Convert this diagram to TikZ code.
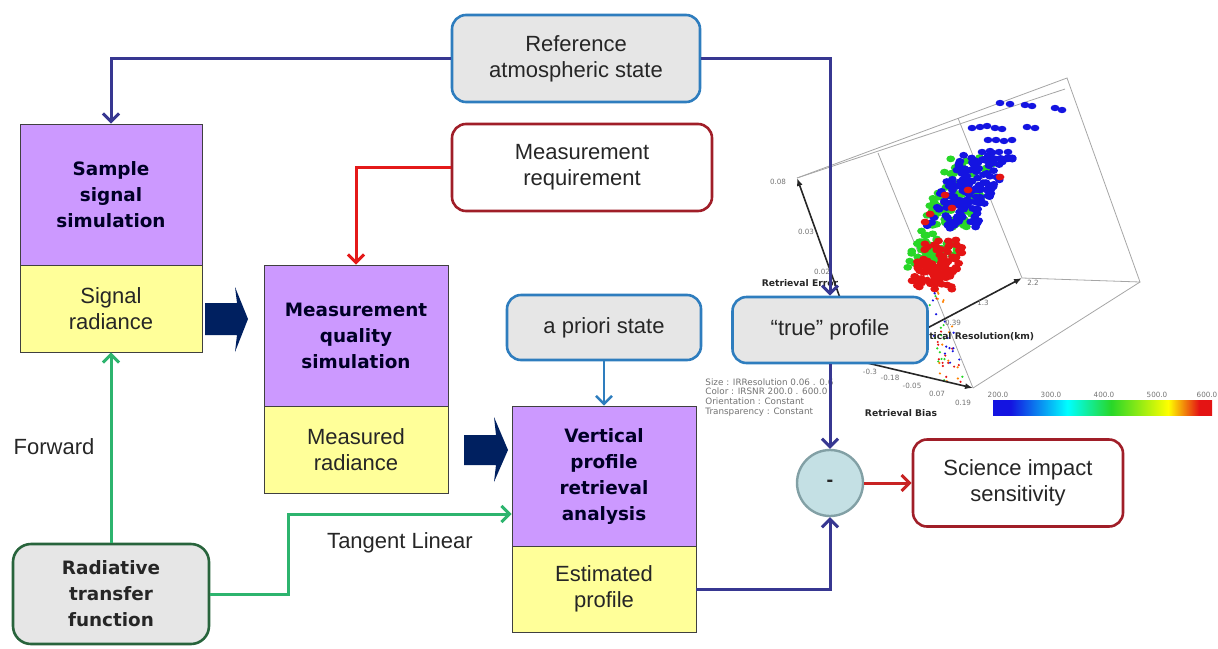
\documentclass[tikz,border=0pt]{standalone}
\usepackage{fontspec}
\setmainfont{Liberation Sans}
\newfontfamily\dejavu{DejaVu Sans}
\usetikzlibrary{arrows.meta}
\definecolor{boxpurple}{RGB}{204,153,255}
\definecolor{boxyellow}{RGB}{255,255,153}
\definecolor{boxgrey}{RGB}{230,230,230}
\definecolor{edgeblue}{RGB}{46,125,190}
\definecolor{edgered}{RGB}{160,30,40}
\definecolor{edgegreen}{RGB}{40,100,60}
\definecolor{flowblue}{RGB}{55,55,145}
\definecolor{flowred}{RGB}{228,25,25}
\definecolor{outred}{RGB}{200,35,35}
\definecolor{flowgreen}{RGB}{45,180,110}
\definecolor{blocknavy}{RGB}{0,32,96}
\definecolor{circfill}{RGB}{196,224,228}
\definecolor{circedge}{RGB}{130,160,165}
\definecolor{dotblue}{RGB}{20,20,225}
\definecolor{dotgreen}{RGB}{40,215,40}
\definecolor{dotred}{RGB}{228,20,20}
\pgfdeclarehorizontalshading{rainbowbar}{100bp}{color(0bp)=(dotblue); color(29bp)=(dotblue); color(42bp)=(cyan); color(52bp)=(dotgreen); color(65bp)=(yellow); color(72bp)=(dotred); color(100bp)=(dotred)}

\begin{document}
\begin{tikzpicture}[x=0.5pt,y=-0.5pt,
  font=\fontsize{11}{13}\selectfont, text=black!85,
  title/.style={draw=black!75, fill=boxpurple, minimum width=92pt, inner sep=2pt, align=center, font=\dejavu\bfseries\fontsize{9.2}{13}\selectfont, text=black!85!blue},
  output/.style={draw=black!75, fill=boxyellow, minimum width=92pt, inner sep=2pt, align=center},
  state/.style={draw=edgeblue, line width=1.3pt, fill=boxgrey, rounded corners=7pt, align=center},
  need/.style={draw=edgered, line width=1.3pt, fill=white, rounded corners=7pt, align=center},
  flow/.style={line width=1.5pt, -{Straight Barb[length=4pt,width=8pt]}},
  frame/.style={draw=black!35, line width=0.4pt},
  axis/.style={draw=black!85, line width=0.8pt, -{Latex[length=4pt,width=3pt]}},
  tick/.style={text=black!55, font=\dejavu\fontsize{3.6}{4}\selectfont, inner sep=0pt},
  axlabel/.style={text=black!85, font=\dejavu\bfseries\fontsize{4.6}{5}\selectfont, inner sep=0pt}]
\useasboundingbox (0,0) rectangle (1218,648);

% scatter plot
\coordinate (pA) at (797,178);
\coordinate (pB) at (1067,78);
\coordinate (pC) at (1140,282);
\coordinate (pD) at (1022,278);
\coordinate (pE) at (973,388);
\coordinate (pF) at (878,153);
\coordinate (pG) at (958,118);
\coordinate (pH) at (1065,89);
\coordinate (pO) at (863,362);
\draw[frame] (pA) -- (pB) -- (pC) -- (pD) -- (pG);
\draw[frame] (pA) -- (pH);
\draw[frame] (pC) -- (pE);
\draw[frame] (pF) -- (pE);

\pgfmathsetseed{42}
\foreach \i in {1,...,120}{
  \pgfmathsetmacro{\t}{rnd}
  \pgfmathsetmacro{\px}{928+45*\t+23*rand}
  \pgfmathsetmacro{\py}{266-105*\t+6*rand}
  \fill[dotgreen] (\px,\py) ellipse [x radius=2.2pt, y radius=1.7pt];
}
\foreach \i in {1,...,100}{
  \pgfmathsetmacro{\t}{rnd}
  \pgfmathsetmacro{\px}{932+10*\t+22*rand}
  \pgfmathsetmacro{\py}{285-42*\t+5*rand}
  \fill[dotred] (\px,\py) ellipse [x radius=2.2pt, y radius=1.7pt];
}
\foreach \i in {1,...,150}{
  \pgfmathsetmacro{\t}{rnd}
  \pgfmathsetmacro{\px}{950+38*\t+26*rand}
  \pgfmathsetmacro{\py}{226-72*\t+6*rand}
  \fill[dotblue] (\px,\py) ellipse [x radius=2.2pt, y radius=1.7pt];
}
\foreach \x/\y in {1000/103,1010/104,1025/105,1032/106,1055/108,1062/110,972/128,980/127,987/126,995/128,1002/129,1027/127,1035/128,988/140,996/140,1004/141,1012/140,982/152,990/151,999/152,1008/152}
  \fill[dotblue] (\x,\y) ellipse [x radius=2.2pt, y radius=1.6pt];
\foreach \x/\y in {1000/177,945/195,930/214,952/208,925/222,968/190}
  \fill[dotred] (\x,\y) ellipse [x radius=2.2pt, y radius=1.7pt];
\foreach \c in {dotred,dotgreen,dotblue,orange}{
  \foreach \i in {1,...,14}{
    \pgfmathsetmacro{\t}{rnd}
    \pgfmathsetmacro{\px}{932+22*\t+12*rand}
    \pgfmathsetmacro{\py}{292+90*\t}
    \fill[\c] (\px,\py) circle (0.6pt);
  }
}

\draw[axis] (pO) -- (pA);
\draw[axis] (pO) -- (pD);
\draw[axis] (pO) -- (pE);
\node[tick] (t1) at (778,182) {0.08};
\node[tick] (t2) at (806,232) {0.03};
\node[tick] (t3) at (822,272) {0.02};
\node[tick] (t4) at (1033,283) {2.2};
\node[tick] (t5) at (983,303) {1.3};
\node[tick] (t6) at (953,323) {0.39};
\node[tick] (t7) at (870,372) {-0.3};
\node[tick] (t8) at (890,378) {-0.18};
\node[tick] (t9) at (912,386) {-0.05};
\node[tick] (t10) at (937,394) {0.07};
\node[tick] (t11) at (963,403) {0.19};
\node[axlabel] (errlab) at (800,283) {Retrieval Error};
\node[axlabel] (reslab) at (973,337) {Vertical Resolution(km)};
\node[axlabel] (biaslab) at (901,413) {Retrieval Bias};
\node[tick, font=\dejavu\fontsize{4.4}{4.9}\selectfont, anchor=north west, align=left] (legend) at (705,378)
  {Size : IRResolution 0.06 . 0.6\\Color : IRSNR 200.0 . 600.0\\Orientation : Constant\\Transparency : Constant};
\shade[shading=rainbowbar] (993,400) rectangle (1212,415);
\node[tick] (c1) at (998,395) {200.0};
\node[tick] (c2) at (1051,395) {300.0};
\node[tick] (c3) at (1104,395) {400.0};
\node[tick] (c4) at (1157,395) {500.0};
\node[tick] (c5) at (1207,395) {600.0};

% blocks
\node[title, minimum width=91pt, minimum height=70.5pt] (sss) at (111,194.5) {Sample\\signal\\simulation};
\node[output, minimum width=91pt, minimum height=43.5pt] (sr) at (111,308.5) {Signal\\radiance};
\node[title, minimum height=70.5pt] (mqs) at (356,335.5) {Measurement\\quality\\simulation};
\node[output, minimum height=43.5pt] (mr) at (356,449.5) {Measured\\radiance};
\node[title, minimum height=70pt] (vpr) at (604,476) {Vertical\\profile\\retrieval\\analysis};
\node[output, minimum height=43pt] (ep) at (604,589) {Estimated\\profile};
\node[state, minimum width=124pt, minimum height=43.5pt] (ref) at (576,58.5) {Reference\\atmospheric state};
\node[need, minimum width=130pt, minimum height=43.5pt] (req) at (582,167.5) {Measurement\\requirement};
\node[state, minimum width=97pt, minimum height=32.5pt] (apriori) at (604,327.5) {a priori state};
\node[state, minimum width=97.5pt, minimum height=33pt] (true) at (830,330) {“true” profile};
\node[circle, draw=circedge, line width=1.2pt, fill=circfill, minimum size=33pt, inner sep=0pt, font=\bfseries] (minus) at (830,483) {-};
\node[need, minimum width=105pt, minimum height=43.5pt] (sci) at (1018,483) {Science impact\\sensitivity};
\node[draw=edgegreen, line width=1.3pt, fill=boxgrey, rounded corners=9pt, minimum width=98pt, minimum height=50pt, align=center, font=\dejavu\bfseries\fontsize{9.2}{13}\selectfont] (rtf) at (111,594) {Radiative\\transfer\\function};
\node (fwd) at (54,447) {Forward};
\node (tanlin) at (400,543) {Tangent Linear};

\fill[blocknavy] (205,303) -- (237,303) -- (235,287) -- (248,319) -- (235,352) -- (237,335) -- (205,335) -- cycle;
\fill[blocknavy] (464,435) -- (496,435) -- (494,417) -- (508,450) -- (494,482) -- (496,465) -- (464,465) -- cycle;

% connectors
\draw[flow, flowblue] (ref.west) -| (sss.north);
\draw[flow, flowblue] (ref.east) -| (true.north);
\draw[flow, flowblue] (true.south) -- (minus.north);
\draw[flow, flowblue] (ep.east) -| (minus.south);
\draw[flow, flowred] (req.west) -| (mqs.north);
\draw[flow, outred] (minus.east) -- (sci.west);
\draw[flow, edgeblue, line width=1.2pt] (apriori.south) -- (vpr.north);
\draw[flow, flowgreen] (rtf.north) -- (sr.south);
\coordinate (tlbend) at (288,514);
\draw[flow, flowgreen] (rtf.east) -| (tlbend) -- (tlbend -| vpr.west);
\end{tikzpicture}
\end{document}
